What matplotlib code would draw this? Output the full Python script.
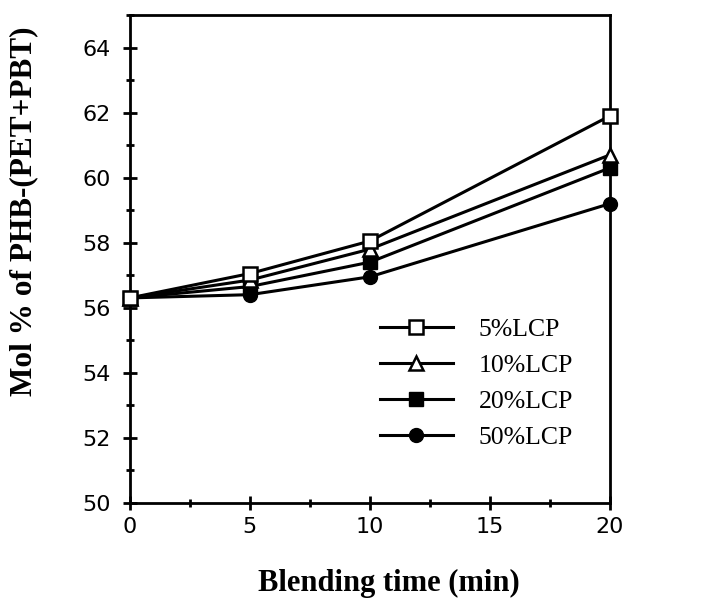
import matplotlib
matplotlib.use("Agg")
import matplotlib.pyplot as plt
from matplotlib.ticker import MultipleLocator

time_min = [0, 5, 10, 20]
lcp5 = [56.3, 57.05, 58.05, 61.9]
lcp10 = [56.3, 56.85, 57.8, 60.7]
lcp20 = [56.3, 56.65, 57.4, 60.3]
lcp50 = [56.3, 56.4, 56.95, 59.2]
labels = ["5%LCP", "10%LCP", "20%LCP", "50%LCP"]

fig = plt.figure(figsize=(7.02, 6.0), dpi=100)
ax = fig.add_axes([0.185, 0.162, 0.684, 0.813])

serif = ["Liberation Serif", "DejaVu Serif"]
lw = 2.2
ms = 10
ax.plot(time_min, lcp5, color="black", lw=lw, marker="s", ms=ms, mfc="white", mec="black", mew=1.8, label=labels[0], clip_on=False, zorder=5)
ax.plot(time_min, lcp10, color="black", lw=lw, marker="^", ms=ms, mfc="white", mec="black", mew=1.8, label=labels[1], clip_on=False, zorder=4)
ax.plot(time_min, lcp20, color="black", lw=lw, marker="s", ms=ms, mfc="black", mec="black", label=labels[2], clip_on=False, zorder=3)
ax.plot(time_min, lcp50, color="black", lw=lw, marker="o", ms=ms, mfc="black", mec="black", label=labels[3], clip_on=False, zorder=2)

ax.set_xlim(0, 20)
ax.set_ylim(50, 65)
ax.xaxis.set_major_locator(MultipleLocator(5))
ax.xaxis.set_minor_locator(MultipleLocator(2.5))
ax.set_yticks([50, 52, 54, 56, 58, 60, 62, 64])
ax.yaxis.set_minor_locator(MultipleLocator(1))

for s in ax.spines.values():
    s.set_linewidth(2.0)
ax.tick_params(which="major", direction="inout", length=10, width=2, labelsize=16, top=False, right=False)
ax.tick_params(which="minor", direction="inout", length=6, width=2, top=False, right=False)
ax.tick_params(axis="x", which="major", pad=5)
ax.tick_params(axis="y", which="major", pad=9)

ax.set_xlabel("Blending time (min)", fontfamily=serif, fontweight="bold", fontsize=22)
ax.set_ylabel("Mol % of PHB-(PET+PBT)", fontfamily=serif, fontweight="bold", fontsize=22.5)
ax.xaxis.set_label_coords(0.54, -0.135)
ax.yaxis.set_label_coords(-0.19, 0.598)

leg = ax.legend(loc="upper left", bbox_to_anchor=(0.52, 0.378), frameon=False,
                prop={"family": serif, "size": 18.5}, handlelength=2.85,
                handletextpad=1.0, labelspacing=0.5, borderpad=0, borderaxespad=0)

fig.savefig("out.png", dpi=100)
